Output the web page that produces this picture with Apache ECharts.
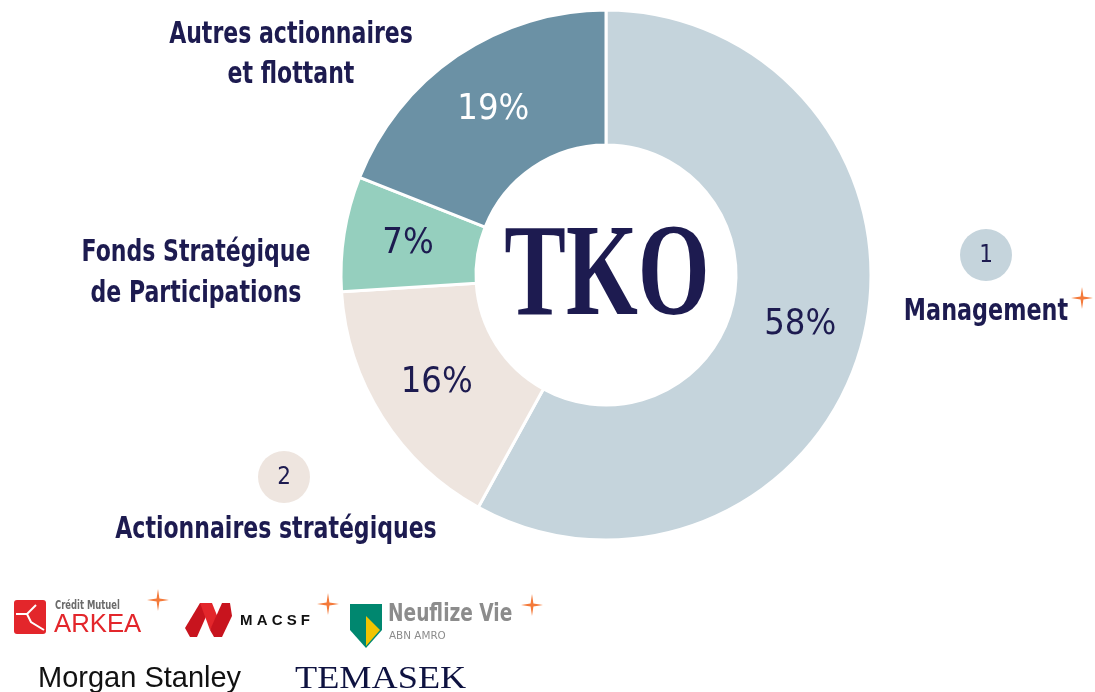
<!DOCTYPE html>
<html>
<head>
<meta charset="utf-8">
<script src="https://cdn.jsdelivr.net/npm/echarts@6/dist/echarts.min.js"></script>
<style>
  html, body { margin: 0; padding: 0; background: #fff; }
  #chart { width: 1095px; height: 692px; }
</style>
</head>
<body>
<div id="chart"></div>
<script>
// data
const segments = ['Management', 'Actionnaires stratégiques', 'Fonds Stratégique de Participations', 'Autres actionnaires et flottant']
const shares = [58, 16, 7, 19]
const segColors = ['#c5d4dc', '#eee5df', '#95cfbe', '#6b91a5']
const labelColors = ['#1d1b50', '#1d1b50', '#1d1b50', '#ffffff']

const NAVY = '#1d1b50'
const ORANGE = '#f47a3a'
const COND = "'DejaVu Sans Condensed', 'DejaVu Sans', sans-serif"

const chart = echarts.init(document.getElementById('chart'))

// petite étoile orange à 4 branches
const star = (cx, cy, r) => {
  const pts = []
  for (let i = 0; i < 8; i++) {
    const a = i * Math.PI / 4 - Math.PI / 2
    const rr = i % 2 === 0 ? r : r * 0.18
    pts.push([cx + rr * Math.cos(a), cy + rr * Math.sin(a)])
  }
  return { type: 'polygon', shape: { points: pts }, style: { fill: ORANGE } }
}

// texte avec compression horizontale éventuelle
const txt = (text, x, y, font, fill, align, sx) => ({
  type: 'text',
  x, y,
  scaleX: sx || 1,
  style: { text, x: 0, y: 0, font, fill, align: align || 'center', verticalAlign: 'middle' }
})

const TITLE = 'bold 31px ' + COND

const graphics = [
  // logo TKO au centre
  txt('TKO', 607, 280, 'bold 132px "Liberation Serif", "DejaVu Serif", serif', NAVY, 'center', 0.7),

  // libellés des segments
  txt('Autres actionnaires', 291, 35, TITLE, NAVY, 'center', 0.79),
  txt('et flottant', 291, 75, TITLE, NAVY, 'center', 0.79),
  txt('Fonds Stratégique', 196, 253, TITLE, NAVY, 'center', 0.79),
  txt('de Participations', 196, 294, TITLE, NAVY, 'center', 0.79),

  { type: 'circle', shape: { cx: 986, cy: 255, r: 26 }, style: { fill: '#c5d4dc' } },
  txt('1', 986, 256, '24px ' + COND, NAVY),
  txt('Management', 986, 312, TITLE, NAVY, 'center', 0.8),
  star(1082, 298, 11),

  { type: 'circle', shape: { cx: 284, cy: 477, r: 26 }, style: { fill: '#eee5df' } },
  txt('2', 284, 478, '24px ' + COND, NAVY),
  txt('Actionnaires stratégiques', 276, 530, TITLE, NAVY, 'center', 0.79),

  // Crédit Mutuel Arkéa
  { type: 'rect', shape: { x: 14, y: 600, width: 32, height: 34, r: 3 }, style: { fill: '#e3262b' } },
  { type: 'polyline', shape: { points: [[16, 614], [27, 614], [31, 622], [44, 630]] }, style: { stroke: '#fff', lineWidth: 2, fill: null } },
  { type: 'polyline', shape: { points: [[27, 614], [36, 605]] }, style: { stroke: '#fff', lineWidth: 2, fill: null } },
  txt('Crédit Mutuel', 55, 606, 'bold 12px ' + COND, '#6b6b6b', 'left', 0.78),
  txt('ARKEA', 54, 625, '25px "Liberation Sans", sans-serif', '#e3262b', 'left', 1.03),
  star(158, 600, 11),

  // MACSF
  { type: 'polygon', shape: { points: [[185, 628], [200, 603], [212, 603], [197, 637], [190, 637]] }, style: { fill: '#c8141e' } },
  { type: 'polygon', shape: { points: [[200, 603], [212, 603], [218, 618], [210, 630]] }, style: { fill: '#e3262b' } },
  { type: 'polygon', shape: { points: [[210, 630], [222, 603], [230, 603], [232, 616], [222, 637], [214, 637]] }, style: { fill: '#c8141e' } },
  txt('M A C S F', 240, 621, 'bold 15px "Liberation Sans", sans-serif', '#111', 'left', 1),
  star(328, 604, 11),

  // Neuflize Vie
  { type: 'polygon', shape: { points: [[350, 604], [382, 604], [382, 630], [366, 648], [350, 630]] }, style: { fill: '#00876f' } },
  { type: 'polygon', shape: { points: [[366, 616], [380, 630], [366, 646]] }, style: { fill: '#f1c400' } },
  txt('Neuflize Vie', 388, 615, 'bold 24px ' + COND, '#8c8c8c', 'left', 0.86),
  txt('ABN AMRO', 389, 636, '11px ' + COND, '#8c8c8c', 'left', 1.05),
  star(532, 605, 11),

  // Morgan Stanley / Temasek
  txt('Morgan Stanley', 38, 679, '29px "Liberation Sans", sans-serif', '#111', 'left', 1),
  txt('TEMASEK', 295, 680, '31px "Liberation Serif", serif', '#0e1240', 'left', 1.17)
]

const option = {
  backgroundColor: '#ffffff',
  animation: false,
  graphic: graphics,
  series: [
    {
      type: 'pie',
      center: [606, 275],
      radius: [130, 265],
      startAngle: 90,
      clockwise: true,
      silent: true,
      itemStyle: { borderColor: '#ffffff', borderWidth: 3 },
      label: {
        position: 'inside',
        formatter: '{c}%',
        fontFamily: COND,
        fontSize: 36
      },
      labelLine: { show: false },
      data: segments.map((name, i) => ({
        name,
        value: shares[i],
        itemStyle: { color: segColors[i] },
        label: { color: labelColors[i] }
      }))
    }
  ]
}

chart.setOption(option)
window.addEventListener('resize', () => chart.resize())
</script>
</body>
</html>
